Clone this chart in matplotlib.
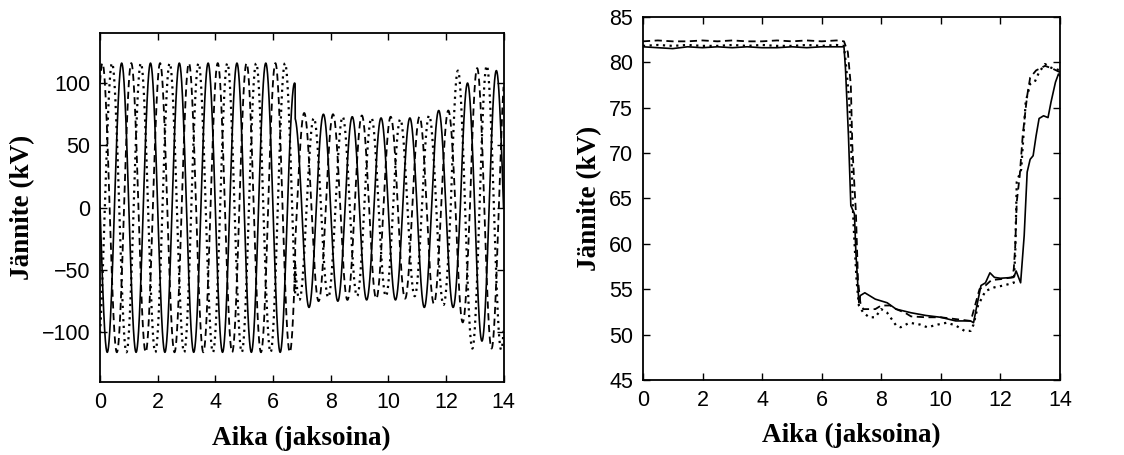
import numpy as np
import matplotlib
matplotlib.use("Agg")
import matplotlib.pyplot as plt

# ---- left panel: instantaneous phase voltages ----
# time of the first positive peak of each phase (cycles)
peak_time = {"solid": 0.75, "dashed": 1 / 12, "dotted": 5 / 12}
fault_time = 6.77
# peak magnitude (kV) of every half cycle
half_peaks = {
    "solid": [116] * 13 + [72, 80, 75, 75, 73, 74, 72, 74, 72, 80, 78, 80, 100, 107, 110],
    "dashed": [116] * 13 + [75, 76, 75, 75, 74, 74, 73, 73, 73, 73, 77, 78, 92, 112, 113, 112],
    "dotted": [116] * 14 + [74, 72, 72, 73, 71, 72, 71, 71, 71, 74, 78, 110, 113, 114, 114],
}
# magnitude in the half cycle hit by the fault, before the fault instant
prefault_peak = {"solid": 100, "dashed": 116, "dotted": 116}

# ---- right panel: rms values ----
rms_solid_t = [0, 0.5, 1, 1.5, 2, 2.5, 3, 3.5, 4, 4.5, 5, 5.5, 6, 6.5, 6.75, 6.8, 6.9, 6.98,
               7.1, 7.15, 7.25, 7.3, 7.45, 7.8, 8.2, 8.5, 9.0, 9.5, 10.0, 10.5, 11.0, 11.1,
               11.2, 11.35, 11.5, 11.65, 11.8, 12.0, 12.45, 12.53, 12.68, 12.8, 12.9, 13.0,
               13.1, 13.2, 13.3, 13.45, 13.6, 13.7, 13.85, 13.95, 14.0]
rms_solid = [81.7, 81.6, 81.5, 81.7, 81.6, 81.7, 81.6, 81.7, 81.6, 81.6, 81.7, 81.6, 81.7,
             81.7, 81.7, 79.3, 71.9, 64.2, 63.3, 59.0, 53.5, 54.3, 54.6, 53.9, 53.5, 52.8,
             52.4, 52.1, 51.9, 51.5, 51.5, 51.3, 53.0, 55.4, 55.7, 56.8, 56.3, 56.2, 56.3,
             57.0, 55.7, 60.9, 67.9, 69.3, 69.7, 71.9, 73.8, 74.1, 73.9, 75.6, 77.8, 78.7,
             78.5]
rms_dashed_t = [0, 0.5, 1, 1.5, 2, 2.5, 3, 3.5, 4, 4.5, 5, 5.5, 6, 6.5, 6.75, 6.88, 6.98,
                7.03, 7.1, 7.15, 7.22, 7.3, 7.4, 7.6, 7.8, 8.0, 8.3, 8.5, 8.8, 9.0, 9.5,
                10.0, 10.5, 11.0, 11.05, 11.15, 11.3, 11.5, 11.7, 12.0, 12.4, 12.45, 12.5,
                12.55, 12.65, 12.75, 12.85, 12.9, 13.0, 13.2, 13.5, 13.75, 14.0]
rms_dashed = [82.3, 82.4, 82.3, 82.3, 82.4, 82.3, 82.4, 82.3, 82.3, 82.4, 82.3, 82.4, 82.3,
              82.4, 82.3, 81.1, 77.4, 70.8, 66.4, 63.5, 56.0, 53.5, 52.8, 52.8, 52.8, 53.2,
              53.2, 52.8, 52.4, 52.0, 51.9, 51.9, 51.7, 51.5, 52.0, 53.2, 55.0, 55.4, 56.0,
              56.1, 56.3, 57.2, 59.8, 64.6, 67.5, 71.9, 74.9, 76.3, 78.3, 79.1, 79.6, 79.3,
              78.9]
rms_dotted_t = [0, 0.5, 1, 1.5, 2, 2.5, 3, 3.5, 4, 4.5, 5, 5.5, 6, 6.5, 6.75, 6.82, 6.93,
                7.0, 7.05, 7.09, 7.17, 7.25, 7.4, 7.6, 7.8, 8.0, 8.2, 8.5, 8.65, 8.95, 9.3,
                9.55, 9.9, 10.2, 10.5, 10.8, 11.0, 11.1, 11.25, 11.5, 11.8, 12.1, 12.45,
                12.5, 12.55, 12.7, 12.85, 13.0, 13.15, 13.3, 13.5, 13.7, 14.0]
rms_dotted = [81.8, 81.9, 81.8, 81.9, 81.8, 81.8, 81.9, 81.8, 81.9, 81.8, 81.8, 81.9, 81.8,
              81.9, 81.8, 79.6, 75.6, 70.0, 63.8, 60.9, 56.1, 53.2, 52.4, 51.9, 51.9, 52.8,
              52.4, 51.0, 50.8, 51.3, 51.1, 50.8, 51.1, 51.3, 51.0, 50.4, 50.4, 51.1, 53.2,
              54.8, 55.2, 55.4, 55.7, 59.0, 66.8, 68.2, 75.6, 77.6, 77.8, 78.9, 79.8, 79.4,
              79.1]

styles = {
    "solid": dict(linestyle="-", linewidth=1.2),
    "dashed": dict(linestyle=(0, (4, 2.5)), linewidth=1.3),
    "dotted": dict(linestyle=(0, (1, 2)), linewidth=1.6),
}

label_font = dict(family="Liberation Serif", fontweight="bold", fontsize=19.5)
tick_font = "Liberation Sans"


def phase_wave(t, name):
    tp = peak_time[name]
    z0 = (tp - 0.25) % 0.5
    if z0 > 0:
        z0 -= 0.5
    k = np.floor(2 * (t - z0)).astype(int)
    amp = np.asarray(half_peaks[name], dtype=float)[np.clip(k, 0, len(half_peaks[name]) - 1)]
    k_fault = int(np.floor(2 * (fault_time - z0)))
    amp[(k == k_fault) & (t < fault_time)] = prefault_peak[name]
    return amp * np.cos(2 * np.pi * (t - tp))


def style_axes(ax):
    ax.tick_params(direction="in", length=5, width=1, top=True, right=True,
                   labelsize=15.5, pad=7)
    for lab in ax.get_xticklabels() + ax.get_yticklabels():
        lab.set_fontfamily(tick_font)
    for sp in ax.spines.values():
        sp.set_linewidth(1.3)
    ax.set_xlabel("Aika (jaksoina)", labelpad=9, **label_font)
    ax.set_ylabel("Jännite (kV)", labelpad=5, **label_font)


fig = plt.figure(figsize=(11.24, 4.55), dpi=100)
ax1 = fig.add_axes([0.089, 0.160, 0.359, 0.767])
ax2 = fig.add_axes([0.572, 0.165, 0.371, 0.798])

t = np.linspace(0, 14, 6000)
for name in ["dotted", "dashed", "solid"]:
    ax1.plot(t, phase_wave(t, name), color="black", **styles[name])
ax1.set_xlim(0, 14)
ax1.set_ylim(-140, 140)
ax1.set_xticks(range(0, 15, 2))
ax1.set_yticks([-100, -50, 0, 50, 100])
ax1.set_yticklabels(["\u2212100", "\u221250", "0", "50", "100"])
style_axes(ax1)

ax2.plot(rms_dotted_t, rms_dotted, color="black", **styles["dotted"])
ax2.plot(rms_dashed_t, rms_dashed, color="black", **styles["dashed"])
ax2.plot(rms_solid_t, rms_solid, color="black", **styles["solid"])
ax2.set_xlim(0, 14)
ax2.set_ylim(45, 85)
ax2.set_xticks(range(0, 15, 2))
ax2.set_yticks(range(45, 86, 5))
style_axes(ax2)

fig.savefig("out.png", dpi=100)
